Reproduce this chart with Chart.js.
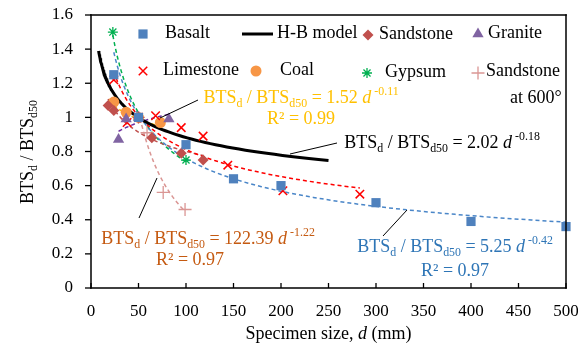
<!DOCTYPE html>
<html>
<head>
<meta charset="utf-8">
<script src="https://cdn.jsdelivr.net/npm/chart.js@4/dist/chart.umd.min.js"></script>
<style>html,body{margin:0;padding:0;background:#fff}canvas{display:block}</style>
</head>
<body>
<canvas id="c" width="578" height="348"></canvas>
<script>
const SERIF = '"Liberation Serif", "Times New Roman", serif';

// Specimen size d (mm) and normalised strength BTSd / BTSd50 for each rock type
const basaltD = [24, 50, 100, 150, 200, 300, 400, 500];
const basaltV = [1.25, 1.00, 0.84, 0.64, 0.60, 0.50, 0.39, 0.36];
const limestoneD = [24, 38, 50, 68, 95, 118, 144, 202, 283];
const limestoneV = [1.22, 0.97, 1.00, 1.01, 0.94, 0.89, 0.72, 0.57, 0.55];
const sandstoneD = [18, 24, 50, 64, 95, 118];
const sandstoneV = [1.07, 1.04, 1.00, 0.88, 0.79, 0.75];
const graniteD = [29, 37, 50, 82];
const graniteV = [0.87, 0.99, 1.00, 0.99];
const coalD = [24, 37, 50, 73];
const coalV = [1.09, 1.03, 1.00, 0.97];
const gypsumD = [23, 50, 100];
const gypsumV = [1.50, 1.00, 0.75];
const sand600D = [50, 59, 76, 99];
const sand600V = [1.00, 0.91, 0.56, 0.46];

// Power laws a * d^b quoted on the chart, with their R²
const basaltFit = [5.25, -0.42];
const basaltR2 = 0.97;
const coalFit = [1.52, -0.11];
const coalR2 = 0.99;
const sand600Fit = [122.39, -1.22];
const sand600R2 = 0.97;
const hbModel = [2.02, -0.18];
const hbRange = [8, 250];

// Axis ticks
const xTicks = [0, 50, 100, 150, 200, 250, 300, 350, 400, 450, 500];
const yTicks = [0, 0.2, 0.4, 0.6, 0.8, 1, 1.2, 1.4, 1.6];

const pts = (ds, vs) => ds.map((d, i) => ({ x: d, y: vs[i] }));

// least-squares fit of ln(v) = ln(a) + b ln(d)
function powerFit(ds, vs) {
  const lx = ds.map(Math.log), ly = vs.map(Math.log);
  const n = lx.length;
  const mx = lx.reduce((s, v) => s + v, 0) / n, my = ly.reduce((s, v) => s + v, 0) / n;
  let sxy = 0, sxx = 0;
  for (let i = 0; i < n; i++) { sxy += (lx[i] - mx) * (ly[i] - my); sxx += (lx[i] - mx) ** 2; }
  const b = sxy / sxx;
  return [Math.exp(my - b * mx), b];
}

// sample a power-law curve between d0 and d1
function curve(fit, d0, d1) {
  const out = [], n = 80;
  for (let i = 0; i <= n; i++) {
    const d = d0 * Math.pow(d1 / d0, i / n);
    out.push({ x: d, y: fit[0] * Math.pow(d, fit[1]) });
  }
  return out;
}
const span = ds => [Math.min(...ds), Math.max(...ds)];

const COL = {
  basalt: '#4F81BD', sandstone: '#C0504D', granite: '#8064A2',
  limestone: '#FF0000', coal: '#F79646', gypsum: '#00B050', sand600: '#DA9694'
};

const markers = [
  { key: 'basalt', label: 'Basalt', data: pts(basaltD, basaltV), pointStyle: 'rect', pointRadius: 6.5, pointBorderWidth: 0 },
  { key: 'sandstone', label: 'Sandstone', data: pts(sandstoneD, sandstoneV), pointStyle: 'rectRot', pointRadius: 5.5, pointBorderWidth: 0 },
  { key: 'granite', label: 'Granite', data: pts(graniteD, graniteV), pointStyle: 'triangle', pointRadius: 6.5, pointBorderWidth: 0 },
  { key: 'limestone', label: 'Limestone', data: pts(limestoneD, limestoneV), pointStyle: 'crossRot', pointRadius: 6, pointBorderWidth: 1.5 },
  { key: 'coal', label: 'Coal', data: pts(coalD, coalV), pointStyle: 'circle', pointRadius: 5.5, pointBorderWidth: 0 },
  { key: 'gypsum', label: 'Gypsum', data: pts(gypsumD, gypsumV), pointStyle: 'star', pointRadius: 5, pointBorderWidth: 1.3 },
  { key: 'sand600', label: 'Sandstone at 600°', data: pts(sand600D, sand600V), pointStyle: 'cross', pointRadius: 6.5, pointBorderWidth: 1.3 }
].map(m => ({
  ...m, type: 'scatter', showLine: false, order: 0, clip: false,
  backgroundColor: COL[m.key], borderColor: COL[m.key], pointBackgroundColor: COL[m.key], pointBorderColor: COL[m.key]
}));

const trendDefs = [
  { color: '#4A86C8', fit: basaltFit, range: span(basaltD) },
  { color: '#FF0000', fit: powerFit(limestoneD, limestoneV), range: span(limestoneD) },
  { color: '#C0504D', fit: powerFit(sandstoneD, sandstoneV), range: span(sandstoneD) },
  { color: '#7030A0', fit: powerFit(graniteD, graniteV), range: span(graniteD) },
  { color: '#FFC000', fit: coalFit, range: span(coalD) },
  { color: '#00B050', fit: powerFit(gypsumD, gypsumV), range: span(gypsumD) },
  { color: '#DA9694', fit: sand600Fit, range: span(sand600D) }
];
const trends = trendDefs.map(t => ({
  type: 'scatter', showLine: true, data: curve(t.fit, t.range[0], t.range[1]),
  borderColor: t.color, borderWidth: 1.5, borderDash: [4, 3], pointRadius: 0, order: 2, clip: false, fill: false
}));
const hbLine = {
  type: 'scatter', label: 'H-B model', showLine: true, data: curve(hbModel, hbRange[0], hbRange[1]),
  borderColor: '#000', borderWidth: 3, pointRadius: 0, order: 1, clip: false, fill: false
};

// rich text: runs with optional subscript / superscript / italic
function richWidth(ctx, parts, size) {
  let w = 0;
  for (const p of parts) {
    const s = p.s ? size * 0.66 : size;
    ctx.font = (p.i ? 'italic ' : '') + s + 'px ' + SERIF;
    w += ctx.measureText(p.t).width;
  }
  return w;
}
function drawRich(ctx, parts, cx, cy, size, color) {
  const w = richWidth(ctx, parts, size);
  let x = cx - w / 2;
  ctx.fillStyle = color;
  ctx.textBaseline = 'alphabetic';
  ctx.textAlign = 'left';
  const base = cy + size * 0.33;
  for (const p of parts) {
    const s = p.s ? size * 0.66 : size;
    ctx.font = (p.i ? 'italic ' : '') + s + 'px ' + SERIF;
    const off = p.s === 'sub' ? size * 0.22 : p.s === 'sup' ? -size * 0.42 : 0;
    ctx.fillText(p.t, x, base + off);
    x += ctx.measureText(p.t).width;
  }
}
const ratio = [{ t: 'BTS' }, { t: 'd', s: 'sub' }, { t: ' / BTS' }, { t: 'd50', s: 'sub' }];
const eq = fit => ratio.concat([{ t: ' = ' + fit[0].toFixed(2) + ' ' }, { t: 'd', i: true }, { t: ' ' + fit[1], s: 'sup' }]);
const r2 = v => [{ t: 'R² = ' + v.toFixed(2) }];

function seg(ctx, x0, y0, x1, y1, w, c) {
  ctx.beginPath(); ctx.moveTo(x0, y0); ctx.lineTo(x1, y1);
  ctx.lineWidth = w; ctx.strokeStyle = c; ctx.stroke();
}

// plot box and tick marks painted as filled bars: x ticks inward, y ticks outward
function drawFrame(chart) {
  const { ctx, chartArea: a, scales: { x, y } } = chart;
  const w = 1.5;
  ctx.save();
  ctx.globalAlpha = 1;
  ctx.globalCompositeOperation = 'source-over';
  ctx.fillStyle = '#000000';
  ctx.fillRect(a.left - w / 2, a.top - w / 2, a.right - a.left + w, w);
  ctx.fillRect(a.left - w / 2, a.bottom - w / 2, a.right - a.left + w, w);
  ctx.fillRect(a.left - w / 2, a.top - w / 2, w, a.bottom - a.top + w);
  ctx.fillRect(a.right - w / 2, a.top - w / 2, w, a.bottom - a.top + w);
  for (const v of xTicks) { const px = x.getPixelForValue(v); ctx.fillRect(px - 0.65, a.bottom - 5, 1.3, 5); }
  for (const v of yTicks) { const py = y.getPixelForValue(v); ctx.fillRect(a.left - 6, py - 0.65, 6, 1.3); }
  ctx.restore();
}

const decor = {
  id: 'decor',
  afterDraw(chart) {
    const { ctx, chartArea: a } = chart;
    ctx.save();
    ctx.setLineDash([]);

    // axis titles
    drawRich(ctx, [{ t: 'Specimen size, ' }, { t: 'd', i: true }, { t: ' (mm)' }], (a.left + a.right) / 2, 333, 18, '#000');
    ctx.save();
    ctx.translate(27, 152); ctx.rotate(-Math.PI / 2);
    drawRich(ctx, ratio, 0, 0, 18, '#000');
    ctx.restore();

    // legend
    const legendPos = [
      { m: 0, x: 143, y: 34, tx: 165 },
      { m: 1, x: 368, y: 35, tx: 379 },
      { m: 2, x: 478, y: 34, tx: 488 },
      { m: 3, x: 143, y: 71, tx: 163 },
      { m: 4, x: 256, y: 71, tx: 280 },
      { m: 5, x: 367, y: 73, tx: 385 },
      { m: 6, x: 478, y: 73, tx: 486 }
    ];
    for (const L of legendPos) {
      const m = markers[L.m];
      ctx.fillStyle = m.pointBackgroundColor; ctx.strokeStyle = m.pointBorderColor;
      ctx.lineWidth = m.pointBorderWidth || 1;
      Chart.helpers.drawPoint(ctx, { pointStyle: m.pointStyle, radius: m.pointRadius, borderWidth: m.pointBorderWidth, rotation: 0 }, L.x, L.y);
    }
    ctx.font = '18px ' + SERIF; ctx.fillStyle = '#000'; ctx.textAlign = 'left'; ctx.textBaseline = 'middle';
    for (const L of legendPos) {
      const lab = markers[L.m].label;
      if (L.m === 6) {
        const cut = lab.indexOf(' at ');
        ctx.fillText(lab.slice(0, cut), L.tx, L.y - 2);
        ctx.fillText(lab.slice(cut + 1), 510, L.y + 25);
      } else ctx.fillText(lab, L.tx, L.y - 1);
    }
    seg(ctx, 242, 34, 273, 34, 3, '#000');
    ctx.fillStyle = '#000';
    ctx.fillText(hbLine.label, 277, 33);

    // fitted-equation callouts with leader lines
    seg(ctx, 198, 100, 160, 118, 1, '#000');
    drawRich(ctx, eq(coalFit), 301, 97, 18, '#FFC000');
    drawRich(ctx, r2(coalR2), 301, 118, 18, '#FFC000');

    seg(ctx, 337, 143, 290, 154, 1, '#000');
    drawRich(ctx, eq(hbModel), 442, 142, 18, '#000');

    seg(ctx, 139, 218, 157, 178, 1, '#000');
    drawRich(ctx, eq(sand600Fit), 208, 238, 18, '#C55A11');
    drawRich(ctx, r2(sand600R2), 190, 259, 18, '#C55A11');

    seg(ctx, 383, 236, 407, 210, 1, '#000');
    drawRich(ctx, eq(basaltFit), 455, 246, 18, '#2E75B6');
    drawRich(ctx, r2(basaltR2), 455, 270, 18, '#2E75B6');
    ctx.restore();

    drawFrame(chart);
  }
};

Chart.defaults.font.family = SERIF;
Chart.defaults.color = '#000';

new Chart(document.getElementById('c'), {
  type: 'scatter',
  data: { datasets: [...markers, hbLine, ...trends] },
  options: {
    responsive: false, animation: false, devicePixelRatio: 1,
    layout: { padding: { top: 15, right: 12, left: 0, bottom: 0 } },
    plugins: { legend: { display: false }, tooltip: { enabled: false } },
    scales: {
      x: {
        type: 'linear', min: 0, max: 500,
        afterBuildTicks: s => { s.ticks = xTicks.map(v => ({ value: v })); },
        afterFit: s => { s.height = 60; s.paddingLeft = 0; s.paddingRight = 0; },
        ticks: { font: { size: 17 }, color: '#000', padding: 5, maxRotation: 0 },
        grid: { display: false }, border: { display: false }
      },
      y: {
        type: 'linear', min: 0, max: 1.6,
        afterBuildTicks: s => { s.ticks = yTicks.map(v => ({ value: v })); },
        afterFit: s => { s.width = 91; s.paddingTop = 0; s.paddingBottom = 0; },
        ticks: { font: { size: 17 }, color: '#000', padding: 10, callback: v => String(+v.toFixed(1)) },
        grid: { display: false }, border: { display: false }
      }
    }
  },
  plugins: [decor]
});
</script>
</body>
</html>
